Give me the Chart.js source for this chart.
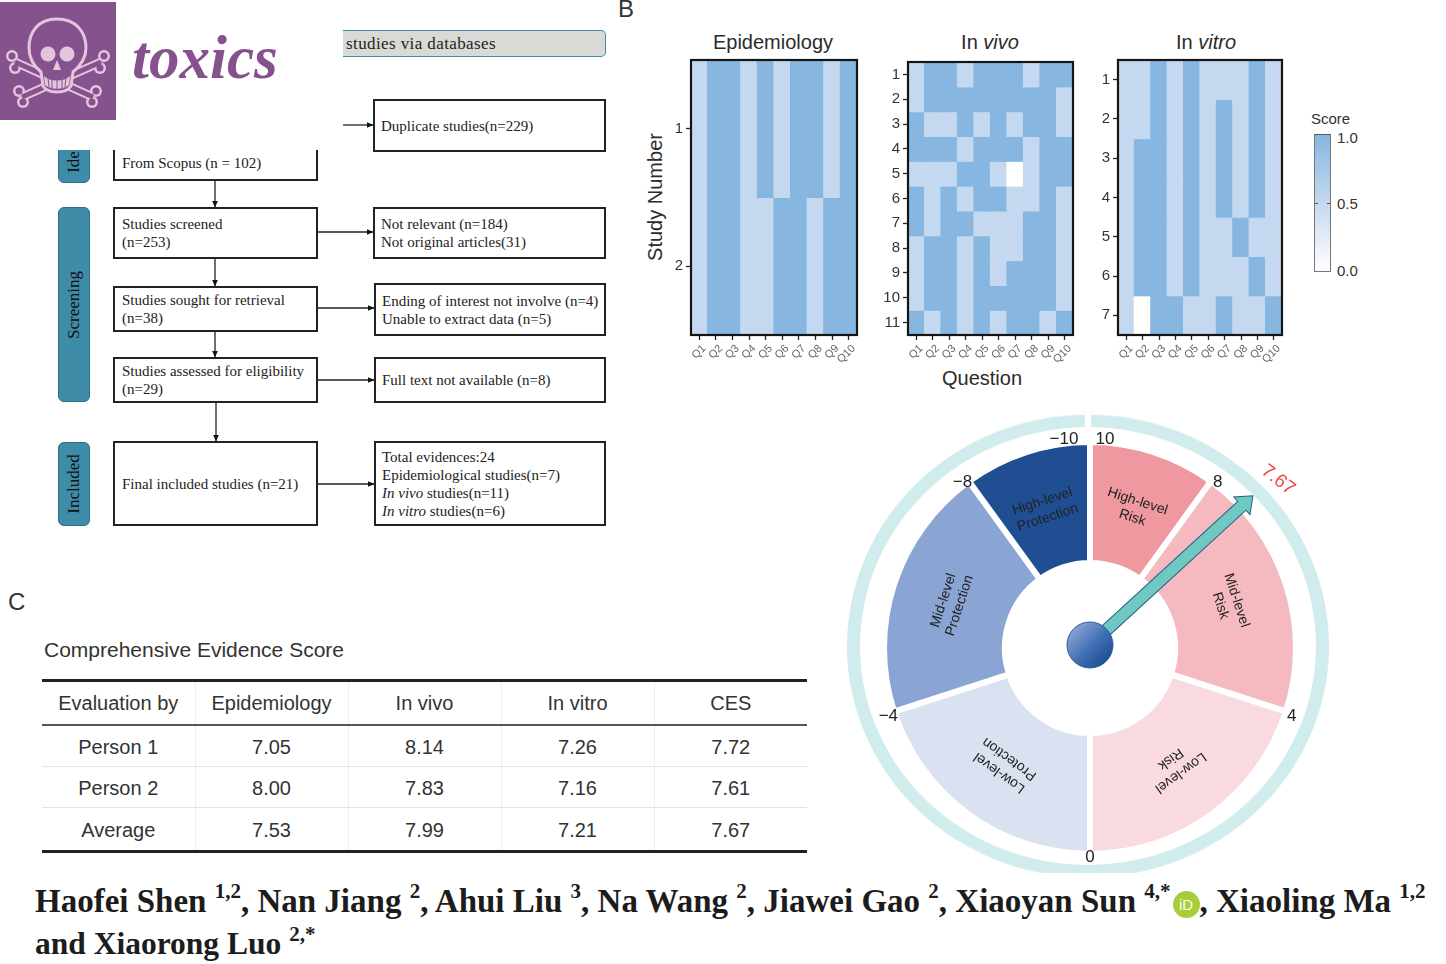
<!DOCTYPE html>
<html>
<head>
<meta charset="utf-8">
<script src="https://cdn.jsdelivr.net/npm/chart.js@4"></script>
<style>
  html, body { margin: 0; padding: 0; background: #fff; }
  #page { position: relative; width: 1446px; height: 964px; overflow: hidden; font-family: 'Liberation Sans', Arial, sans-serif; color: #333; }
  #page > * { position: absolute; }
  .lbl { white-space: nowrap; line-height: 1; }
  .title { font-size: 20px; transform: translate(-50%, -50%); color: #2b2b2b; }
  .box { box-sizing: border-box; border: 2px solid #222; background: #fff; font: 15px/18px 'Liberation Serif', serif; color: #222; padding-left: 7px; display: flex; flex-direction: column; justify-content: center; white-space: nowrap; }
  .box.r { padding-left: 6px; }
  .side { box-sizing: border-box; background: #3e8ca8; border: 1px solid #2d6e88; border-radius: 6px; }
  .side span { position: absolute; left: 50%; top: 50%; transform: translate(-50%, -50%) rotate(-90deg); font: 17px 'Liberation Serif', serif; color: #111; white-space: nowrap; }
  #cover { left: 0; top: 0; width: 343px; height: 150px; background: #fff; }
  #logo { left: 0; top: 2px; }
  #toxics { left: 132px; top: 23px; font: italic bold 61px 'Liberation Serif', serif; color: #86528e; }
  #ces { left: 42px; top: 679px; width: 765px; border-collapse: collapse; table-layout: fixed; font-size: 20px; color: #333; }
  #ces td, #ces th { font-weight: normal; text-align: center; padding: 0; border-left: 1px solid #eee; border-bottom: 1px solid #e4e4e4; }
  #ces td:first-child, #ces th:first-child { border-left: none; }
  #ces tr.head th { height: 42px; border-top: 3px solid #222; border-bottom: 2px solid #555; }
  #ces tr.row td { height: 38px; padding-top: 2px; }
  #ces tr.row:last-child td { height: 40px; border-bottom: 3px solid #222; }
  #authors { left: 0; top: 873px; width: 1446px; height: 91px; background: #fff; }
  #authors div { position: absolute; left: 35px; white-space: nowrap; font: bold 33px 'Liberation Serif', serif; color: #1c1c1c; }
  #authors sup { font-size: 21px; line-height: 0; position: relative; top: -2px; vertical-align: super; }
  #orcid { display: inline-block; width: 27px; height: 27px; border-radius: 50%; background: #a6ce39; color: #fff; font: 15px/27px 'Liberation Sans', sans-serif; text-align: center; vertical-align: 2px; margin-left: 2px; }
  #cbar { left: 1314px; top: 134px; width: 17px; height: 138px; box-sizing: border-box; border: 1.5px solid #777; border-top-color: #555; background: linear-gradient(to bottom, #87b7e0, #c4d9ef 50%, #fff); }
  .cbtick { width: 3px; height: 1px; background: #555; top: 203px; }
</style>
</head>
<body>
<div id="page">
  <!-- panel A: flow chart -->
  <svg id="arrows" width="620" height="540" style="left:0;top:0">
    <defs><marker id="tip" markerUnits="userSpaceOnUse" markerWidth="7" markerHeight="7" refX="6.5" refY="3.5" orient="auto"><path d="M0,0.5 L7,3.5 L0,6.5 Z" fill="#111"/></marker></defs>
    <g stroke="#222" stroke-width="1.3">
      <line x1="343" y1="125" x2="373" y2="125" marker-end="url(#tip)"/>
      <line x1="318" y1="232" x2="373" y2="232" marker-end="url(#tip)"/>
      <line x1="318" y1="308" x2="374" y2="308" marker-end="url(#tip)"/>
      <line x1="318" y1="380" x2="374" y2="380" marker-end="url(#tip)"/>
      <line x1="318" y1="484" x2="374" y2="484" marker-end="url(#tip)"/>
      <line x1="215" y1="180" x2="215" y2="207" marker-end="url(#tip)"/>
      <line x1="215" y1="259" x2="215" y2="286" marker-end="url(#tip)"/>
      <line x1="215" y1="331" x2="215" y2="357" marker-end="url(#tip)"/>
      <line x1="216" y1="402" x2="216" y2="441" marker-end="url(#tip)"/>
    </g>
  </svg>
  <div class="box" style="left:343px;top:30px;width:263px;height:27px;background:#d9d9d6;border:1.5px solid #3e8ca8;border-left:none;border-radius:0 5px 5px 0;padding-left:3px;font-size:17px;letter-spacing:0.4px">studies via databases</div>
  <div class="box r" style="left:373px;top:99px;width:233px;height:53px">Duplicate studies(n=229)</div>
  <div class="box" style="left:113px;top:130px;width:205px;height:51px;padding-top:14px;">From Scopus (n = 102)</div>
  <div class="box" style="left:113px;top:207px;width:205px;height:52px">Studies screened<br>(n=253)</div>
  <div class="box r" style="left:373px;top:207px;width:233px;height:52px">Not relevant (n=184)<br>Not original articles(31)</div>
  <div class="box" style="left:113px;top:286px;width:205px;height:46px">Studies sought for retrieval<br>(n=38)</div>
  <div class="box r" style="left:374px;top:283px;width:232px;height:53px">Ending of interest not involve (n=4)<br>Unable to extract data (n=5)</div>
  <div class="box" style="left:113px;top:357px;width:205px;height:46px">Studies assessed for eligibility<br>(n=29)</div>
  <div class="box r" style="left:374px;top:357px;width:232px;height:46px">Full text not available (n=8)</div>
  <div class="box" style="left:113px;top:441px;width:205px;height:85px">Final included studies (n=21)</div>
  <div class="box r" style="left:374px;top:441px;width:232px;height:85px"><span>Total evidences:24</span><span>Epidemiological studies(n=7)</span><span><i>In vivo</i> studies(n=11)</span><span><i>In vitro</i> studies(n=6)</span></div>
  <div class="side" style="left:58px;top:130px;width:32px;height:53px"><span style="top:31px;">Ide</span></div>
  <div class="side" style="left:58px;top:207px;width:32px;height:195px"><span>Screening</span></div>
  <div class="side" style="left:58px;top:442px;width:32px;height:84px"><span>Included</span></div>

  <!-- journal logo sits over the top of the flow chart -->
  <div id="cover"></div>
  <svg id="logo" width="116" height="118" viewBox="0 0 116 118">
    <rect width="116" height="118" fill="#86528e"/>
    <g fill="#e3c6dd">
      <circle cx="12" cy="54" r="6"/><circle cx="15" cy="66" r="6"/>
      <circle cx="104" cy="54" r="6"/><circle cx="100" cy="66" r="6"/>
      <circle cx="19" cy="89" r="6"/><circle cx="23" cy="100" r="6"/>
      <circle cx="96" cy="89" r="6"/><circle cx="92" cy="100" r="6"/>
    </g>
    <path d="M15 60 L93 95 M101 60 L22 95" stroke="#e3c6dd" stroke-width="9" fill="none"/>
    <g fill="#86528e">
      <circle cx="12" cy="54" r="3.5"/><circle cx="15" cy="66" r="3.5"/>
      <circle cx="104" cy="54" r="3.5"/><circle cx="100" cy="66" r="3.5"/>
      <circle cx="19" cy="89" r="3.5"/><circle cx="23" cy="100" r="3.5"/>
      <circle cx="96" cy="89" r="3.5"/><circle cx="92" cy="100" r="3.5"/>
    </g>
    <path d="M15 60 L93 95 M101 60 L22 95" stroke="#86528e" stroke-width="5" fill="none"/>
    <path d="M57 17 C38 17 29 30 29 46 C29 58 35 65 41 70 L43 84 C48 92 66 92 71 84 L73 70 C79 65 86 58 86 46 C86 30 76 17 57 17 Z" fill="#86528e" stroke="#e3c6dd" stroke-width="3"/>
    <circle cx="48" cy="52" r="7.5" fill="#e3c6dd"/><circle cx="67" cy="52" r="7.5" fill="#e3c6dd"/>
    <path d="M57 58 L53 68 L61 68 Z" fill="#e3c6dd"/>
    <path d="M44 74 C50 80 64 80 70 74 L69 83 C63 88 51 88 45 83 Z" fill="#e3c6dd"/>
    <path d="M48 76 L49 85 M52 77 L52 86 M57 78 L57 87 M62 77 L62 86 M66 76 L65 85" stroke="#86528e" stroke-width="1"/>
  </svg>
  <div id="toxics" class="lbl">toxics</div>

  <!-- panel letters and heatmap titles -->
  <div class="lbl" style="left:618px;top:-3px;font-size:24px">B</div>
  <div class="lbl" style="left:8px;top:590px;font-size:24px">C</div>
  <div class="lbl title" style="left:773px;top:42px">Epidemiology</div>
  <div class="lbl title" style="left:990px;top:42px">In <i>vivo</i></div>
  <div class="lbl title" style="left:1206px;top:42px">In <i>vitro</i></div>
  <div class="lbl title" style="left:655px;top:197px;transform:translate(-50%,-50%) rotate(-90deg)">Study Number</div>
  <div class="lbl title" style="left:982px;top:378px">Question</div>

  <canvas id="heat-epi"></canvas>
  <canvas id="heat-vivo"></canvas>
  <canvas id="heat-vitro"></canvas>

  <!-- colour bar -->
  <div class="lbl" style="left:1311px;top:111px;font-size:15px">Score</div>
  <div id="cbar"></div>
  <div class="cbtick" style="left:1315px"></div>
  <div class="cbtick" style="left:1327px"></div>
  <div class="lbl" style="left:1337px;top:130px;font-size:15px">1.0</div>
  <div class="lbl" style="left:1337px;top:196px;font-size:15px">0.5</div>
  <div class="lbl" style="left:1337px;top:263px;font-size:15px">0.0</div>

  <!-- panel C -->
  <div class="lbl" style="left:44px;top:639px;font-size:21px">Comprehensive Evidence Score</div>
  <table id="ces"></table>

  <!-- gauge -->
  <canvas id="gauge-ring"></canvas>
  <canvas id="gauge"></canvas>

  <div id="authors">
    <div style="top:10px">Haofei Shen <sup>1,2</sup>, Nan Jiang <sup>2</sup>, Ahui Liu <sup>3</sup>, Na Wang <sup>2</sup>, Jiawei Gao <sup>2</sup>, Xiaoyan Sun <sup>4,</sup><sup>*</sup><span id="orcid">iD</span>, Xiaoling Ma <sup>1,2</sup></div>
    <div style="top:53px;font-size:31.5px">and Xiaorong Luo <sup>2,</sup><sup>*</sup></div>
  </div>
</div>

<script>
/* ─── Data ─── */
const questions = ['Q1', 'Q2', 'Q3', 'Q4', 'Q5', 'Q6', 'Q7', 'Q8', 'Q9', 'Q10'];

const epiStudies = ['1', '2'];
const epiScores = [
  [0.5, 1, 1, 0.5, 1, 0.5, 1, 1, 0.5, 1],
  [0.5, 1, 1, 0.5, 0.5, 1, 1, 0.5, 1, 1],
];

const vivoStudies = ['1', '2', '3', '4', '5', '6', '7', '8', '9', '10', '11'];
const vivoScores = [
  [0.5, 1, 1, 0.5, 1, 1, 1, 0.5, 1, 1],
  [0.5, 1, 1, 1, 1, 1, 1, 1, 1, 0.5],
  [1, 0.5, 0.5, 1, 0.5, 1, 0.5, 1, 1, 0.5],
  [1, 1, 1, 0.5, 1, 1, 1, 0.5, 1, 1],
  [0.5, 0.5, 0.5, 1, 1, 0.5, 0, 0.5, 1, 1],
  [1, 0.5, 1, 0.5, 1, 1, 0.5, 0.5, 1, 0.5],
  [1, 0.5, 1, 1, 0.5, 0.5, 0.5, 1, 1, 0.5],
  [0.5, 1, 1, 0.5, 1, 0.5, 0.5, 1, 1, 0.5],
  [0.5, 1, 1, 0.5, 1, 0.5, 1, 1, 1, 0.5],
  [0.5, 1, 1, 0.5, 1, 1, 1, 1, 1, 0.5],
  [1, 0.5, 1, 0.5, 1, 0.5, 1, 1, 0.5, 1],
];

const vitroStudies = ['1', '2', '3', '4', '5', '6', '7'];
const vitroScores = [
  [0.5, 0.5, 1, 0.5, 1, 0.5, 0.5, 0.5, 1, 0.5],
  [0.5, 0.5, 1, 0.5, 1, 0.5, 1, 0.5, 1, 0.5],
  [0.5, 1, 1, 0.5, 1, 0.5, 1, 0.5, 1, 0.5],
  [0.5, 1, 1, 0.5, 1, 0.5, 1, 0.5, 1, 0.5],
  [0.5, 1, 1, 0.5, 1, 0.5, 0.5, 1, 0.5, 0.5],
  [0.5, 1, 1, 0.5, 1, 0.5, 0.5, 0.5, 1, 0.5],
  [0.5, 0, 1, 1, 0.5, 0.5, 1, 0.5, 0.5, 1],
];

const gaugeSpans  = [2, 4, 4, 4, 4, 2];
const gaugeTicks  = [10, 8, 4, 0, -4, -8, -10];
const gaugeLabels = [
  ['High-level', 'Risk'],
  ['Mid-level', 'Risk'],
  ['Low-level', 'Risk'],
  ['Low-level', 'Protection'],
  ['Mid-level', 'Protection'],
  ['High-level', 'Protection'],
];
const gaugeColors = ['#f0989f', '#f5b9c0', '#f9dade', '#dae1f0', '#8aa5d4', '#1f4e93'];
const gaugeScore  = '7.67';

const tableColumns = ['Evaluation by', 'Epidemiology', 'In vivo', 'In vitro', 'CES'];
const person1 = ['Person 1', '7.05', '8.14', '7.26', '7.72'];
const person2 = ['Person 2', '8.00', '7.83', '7.16', '7.61'];
const average = ['Average', '7.53', '7.99', '7.21', '7.67'];

/* ─── Shared defaults ─── */
Chart.defaults.font.family = "'Liberation Sans', Arial, sans-serif";
Chart.defaults.animation = false;
Chart.defaults.responsive = false;
Chart.defaults.plugins.legend.display = false;
Chart.defaults.plugins.tooltip.enabled = false;

const SCORE_COLORS = { 0: '#ffffff', 0.5: '#c4d9ef', 1: '#87b7e0' };

/* Black frame round the plot area */
const framePlugin = {
  id: 'frame',
  afterDraw(chart) {
    const { ctx, chartArea: a } = chart;
    ctx.save();
    ctx.strokeStyle = '#151515';
    ctx.lineWidth = 2.2;
    ctx.strokeRect(a.left, a.top, a.right - a.left, a.bottom - a.top);
    ctx.restore();
  },
};

/* ─── Heatmaps: one stacked bar per question, one dataset per study ─── */
function initHeatmap(id, scores, studies, left, top, width, height) {
  const AXIS_Y = 36, AXIS_X = 36, PAD = 6;
  const el = document.getElementById(id);
  el.width = width + AXIS_Y + PAD;
  el.height = height + AXIS_X + PAD;
  el.style.left = (left - AXIS_Y) + 'px';
  el.style.top = (top - PAD) + 'px';

  new Chart(el, {
    type: 'bar',
    data: {
      labels: questions,
      datasets: scores.map((row, i) => ({
        label: studies[i],
        data: row.map(() => 1),
        backgroundColor: row.map(s => SCORE_COLORS[s]),
        barPercentage: 1,
        categoryPercentage: 1,
        borderWidth: 0,
        inflateAmount: 0.6,
      })),
    },
    options: {
      layout: { padding: { top: PAD, right: PAD } },
      scales: {
        x: {
          stacked: true,
          afterFit: s => { s.height = AXIS_X; s.paddingLeft = 0; s.paddingRight = 0; },
          border: { display: false },
          grid: { drawOnChartArea: false, tickLength: 5, tickColor: '#222', tickWidth: 1.3, offset: false },
          ticks: { color: '#666', font: { size: 11 }, minRotation: 45, maxRotation: 45, autoSkip: false, padding: 2, labelOffset: 5 },
        },
        y: {
          stacked: true,
          reverse: true,
          min: 0,
          max: studies.length,
          afterFit: s => { s.width = AXIS_Y; s.paddingTop = 0; s.paddingBottom = 0; },
          afterBuildTicks: s => { s.ticks = studies.map((_, i) => ({ value: i + 0.5 })); },
          border: { display: false },
          grid: { drawOnChartArea: false, tickLength: 5, tickColor: '#222', tickWidth: 1.3 },
          ticks: { color: '#333', font: { size: 15 }, autoSkip: false, padding: 3, callback: v => studies[v - 0.5] },
        },
      },
    },
    plugins: [framePlugin],
  });
}

initHeatmap('heat-epi', epiScores, epiStudies, 691, 60, 166, 275);
initHeatmap('heat-vivo', vivoScores, vivoStudies, 908, 62, 165, 273);
initHeatmap('heat-vitro', vitroScores, vitroStudies, 1118, 60, 164, 275);

/* ─── Gauge ─── */
const GAUGE_SIZE = 500;
const TICK_NUDGE = { 10: [15, 0], 8: [3, 3], 0: [0, -6], '-8': [-3, 3], '-10': [-26, 0] };

/* Slice captions and tick numbers, placed from the arcs */
const gaugeTextPlugin = {
  id: 'gaugeText',
  afterDatasetsDraw(chart) {
    const { ctx } = chart;
    const arcs = chart.getDatasetMeta(0).data;
    ctx.save();
    ctx.textAlign = 'center';
    ctx.textBaseline = 'middle';

    ctx.font = "14px 'Liberation Sans'";
    ctx.fillStyle = '#222';
    arcs.forEach((arc, i) => {
      const p = arc.getCenterPoint();
      const mid = (arc.startAngle + arc.endAngle) / 2;
      ctx.save();
      ctx.translate(p.x, p.y);
      ctx.rotate(mid + Math.PI / 2);
      gaugeLabels[i].forEach((line, j) => ctx.fillText(line, 0, (j - 0.5) * 17));
      ctx.restore();
    });

    const cx = arcs[0].x, cy = arcs[0].y;
    ctx.font = "17px 'Liberation Sans'";
    ctx.fillStyle = '#222';
    gaugeTicks.forEach(v => {
      const a = (10 - v) * 18 * Math.PI / 180;
      const [dx, dy] = TICK_NUDGE[v] || [0, 0];
      const label = String(v).replace('-', '\u2212');
      ctx.fillText(label, cx + 212 * Math.sin(a) + dx, cy + 3 - 212 * Math.cos(a) + dy);
    });
    ctx.restore();
  },
};

/* Needle, hub and score caption */
const needlePlugin = {
  id: 'needle',
  afterDraw(chart) {
    const { ctx } = chart;
    const arc = chart.getDatasetMeta(0).data[0];
    const hubX = arc.x, hubY = arc.y - 3;
    ctx.save();
    ctx.translate(hubX, hubY);

    ctx.save();
    ctx.rotate(47.5 * Math.PI / 180);
    ctx.beginPath();
    ctx.moveTo(-6, 0);
    ctx.lineTo(-6, -206);
    ctx.lineTo(-12, -206);
    ctx.lineTo(0, -221);
    ctx.lineTo(12, -206);
    ctx.lineTo(6, -206);
    ctx.lineTo(6, 0);
    ctx.closePath();
    ctx.fillStyle = '#70c8c2';
    ctx.strokeStyle = '#2a5f8a';
    ctx.lineWidth = 1;
    ctx.fill();
    ctx.stroke();
    ctx.restore();

    const g = ctx.createLinearGradient(-17, -17, 17, 17);
    g.addColorStop(0, '#8aa5d4');
    g.addColorStop(0.55, '#3f6fb4');
    g.addColorStop(1, '#1f4e93');
    ctx.beginPath();
    ctx.arc(0, 0, 23, 0, Math.PI * 2);
    ctx.fillStyle = g;
    ctx.strokeStyle = '#2a5a9a';
    ctx.fill();
    ctx.stroke();
    ctx.restore();

    ctx.save();
    ctx.translate(arc.x + 188, arc.y - 168);
    ctx.rotate(38 * Math.PI / 180);
    ctx.font = "19px 'Liberation Sans'";
    ctx.fillStyle = '#f04a4a';
    ctx.textAlign = 'center';
    ctx.textBaseline = 'middle';
    ctx.fillText(gaugeScore, 0, 0);
    ctx.restore();
  },
};

function initGauge() {
  const el = document.getElementById('gauge');
  el.width = GAUGE_SIZE;
  el.height = GAUGE_SIZE;
  el.style.left = '840px';
  el.style.top = '398px';
  new Chart(el, {
    type: 'doughnut',
    data: {
      labels: gaugeLabels.map(l => l.join(' ')),
      datasets: [{
        data: gaugeSpans,
        backgroundColor: gaugeColors,
        borderColor: '#ffffff',
        borderWidth: 6,
      }],
    },
    options: { radius: 206, cutout: '41.3%' },
    plugins: [gaugeTextPlugin, needlePlugin],
  });
}

/* Outer ring is a touch flatter than round in the figure, hence the scale */
function initRing() {
  const el = document.getElementById('gauge-ring');
  el.width = GAUGE_SIZE;
  el.height = GAUGE_SIZE;
  el.style.left = '838px';
  el.style.top = '396px';
  el.style.transform = 'scaleY(0.96)';
  new Chart(el, {
    type: 'doughnut',
    data: { labels: ['Ring'], datasets: [{ data: [gaugeSpans.reduce((a, b) => a + b, 0)], backgroundColor: '#d1ecec', borderWidth: 0 }] },
    options: { radius: 241, cutout: '94.6%', rotation: 0.75, circumference: 358.5 },
  });
}

initRing();
initGauge();

/* ─── Score table ─── */
const widths = [153, 153, 153, 153, 153];
document.getElementById('ces').innerHTML =
  '<colgroup>' + widths.map(w => `<col style="width:${w}px">`).join('') + '</colgroup>' +
  '<tr class="head">' + tableColumns.map(c => `<th>${c}</th>`).join('') + '</tr>' +
  [person1, person2, average].map(r => '<tr class="row">' + r.map(c => `<td>${c}</td>`).join('') + '</tr>').join('');
</script>
</body>
</html>
